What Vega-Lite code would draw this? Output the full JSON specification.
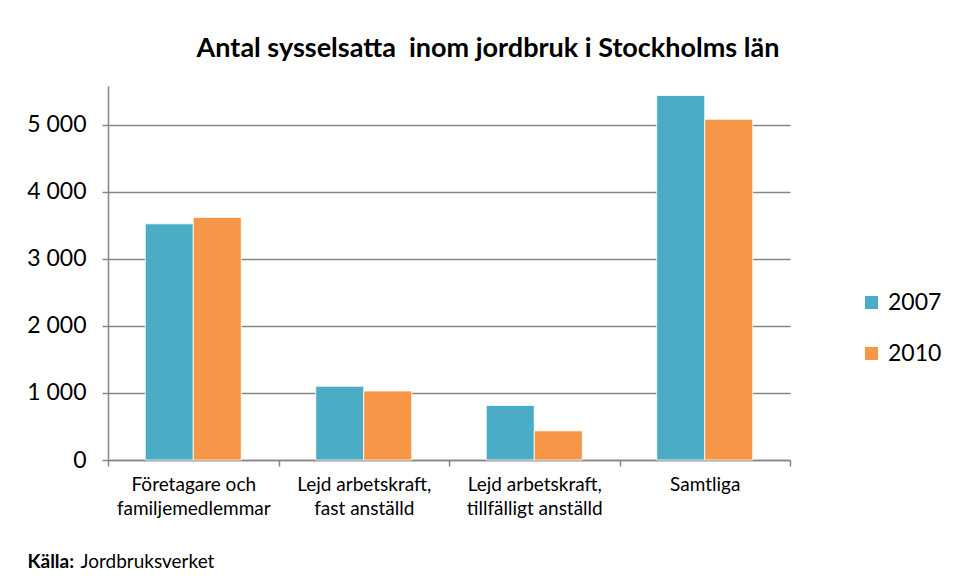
{
  "$schema": "https://vega.github.io/schema/vega-lite/v6.json",
  "autosize": "none",
  "width": 682,
  "height": 374,
  "padding": {"left": 108, "top": 86, "right": 169, "bottom": 119},
  "background": "white",
  "title": {
    "text": "Antal sysselsatta\u00a0 inom jordbruk i Stockholms län",
    "font": "Lato",
    "fontSize": 27,
    "fontWeight": "bold",
    "color": "#000000",
    "anchor": "middle",
    "dx": 39,
    "offset": 23
  },
  "data": {
    "values": [
      {"kategori": "Företagare och familjemedlemmar", "ar": "2007", "antal": 3525},
      {"kategori": "Företagare och familjemedlemmar", "ar": "2010", "antal": 3620},
      {"kategori": "Lejd arbetskraft, fast anställd", "ar": "2007", "antal": 1100},
      {"kategori": "Lejd arbetskraft, fast anställd", "ar": "2010", "antal": 1030},
      {"kategori": "Lejd arbetskraft, tillfälligt anställd", "ar": "2007", "antal": 815},
      {"kategori": "Lejd arbetskraft, tillfälligt anställd", "ar": "2010", "antal": 435},
      {"kategori": "Samtliga", "ar": "2007", "antal": 5440},
      {"kategori": "Samtliga", "ar": "2010", "antal": 5085}
    ]
  },
  "mark": {"type": "bar", "stroke": "white", "strokeWidth": 0.8},
  "encoding": {
    "x": {
      "field": "kategori",
      "type": "nominal",
      "sort": null,
      "scale": {"paddingInner": 0, "paddingOuter": 0},
      "axis": {
        "title": "Jordbruksverket",
        "titleFont": "Lato",
        "titleFontSize": 19,
        "titleFontWeight": "normal",
        "titleColor": "#000000",
        "titleAlign": "left",
        "titleBaseline": "alphabetic",
        "titleAnchor": "start",
        "titleX": -28,
        "titleY": 107,
        "labelAngle": 0,
        "labelFont": "Lato",
        "labelFontSize": 19,
        "labelColor": "#000000",
        "labelLineHeight": 24,
        "labelPadding": 9,
        "labelBaseline": "top",
        "labelExpr": "datum.value == 'Företagare och familjemedlemmar' ? ['Företagare och', 'familjemedlemmar'] : datum.value == 'Lejd arbetskraft, fast anställd' ? ['Lejd arbetskraft,', 'fast anställd'] : datum.value == 'Lejd arbetskraft, tillfälligt anställd' ? ['Lejd arbetskraft,', 'tillfälligt anställd'] : datum.value",
        "tickBand": "extent",
        "tickSize": 6,
        "tickColor": "#868686",
        "tickWidth": 1.5,
        "domainColor": "#868686",
        "domainWidth": 1.5,
        "grid": false
      }
    },
    "xOffset": {"field": "ar", "type": "nominal", "scale": {"paddingInner": 0, "paddingOuter": 0.776}},
    "y": {
      "field": "antal",
      "type": "quantitative",
      "scale": {"domain": [0, 5582], "nice": false},
      "axis": {
        "title": "Källa:",
        "titleFont": "Lato",
        "titleFontSize": 19,
        "titleFontWeight": "bold",
        "titleColor": "#000000",
        "titleAngle": 0,
        "titleAlign": "left",
        "titleBaseline": "alphabetic",
        "titleX": -81,
        "titleY": 481,
        "values": [0, 1000, 2000, 3000, 4000, 5000],
        "labelExpr": "replace(format(datum.value, ','), ',', ' ')",
        "labelFont": "Lato",
        "labelFontSize": 23,
        "labelColor": "#000000",
        "labelPadding": 16,
        "tickSize": 6,
        "tickColor": "#868686",
        "tickWidth": 1.5,
        "domainColor": "#868686",
        "domainWidth": 1.5,
        "grid": true,
        "gridColor": "#868686",
        "gridWidth": 1.5
      }
    },
    "color": {
      "field": "ar",
      "type": "nominal",
      "scale": {"domain": ["2007", "2010"], "range": ["#4BACC6", "#F79646"]},
      "legend": {
        "title": null,
        "orient": "none",
        "legendX": 752,
        "legendY": 205,
        "symbolType": "square",
        "symbolSize": 170,
        "symbolStrokeWidth": 0,
        "labelFont": "Lato",
        "labelFontSize": 23,
        "labelColor": "#000000",
        "labelOffset": 5,
        "rowPadding": 27
      }
    }
  },
  "config": {"view": {"stroke": null}}
}
